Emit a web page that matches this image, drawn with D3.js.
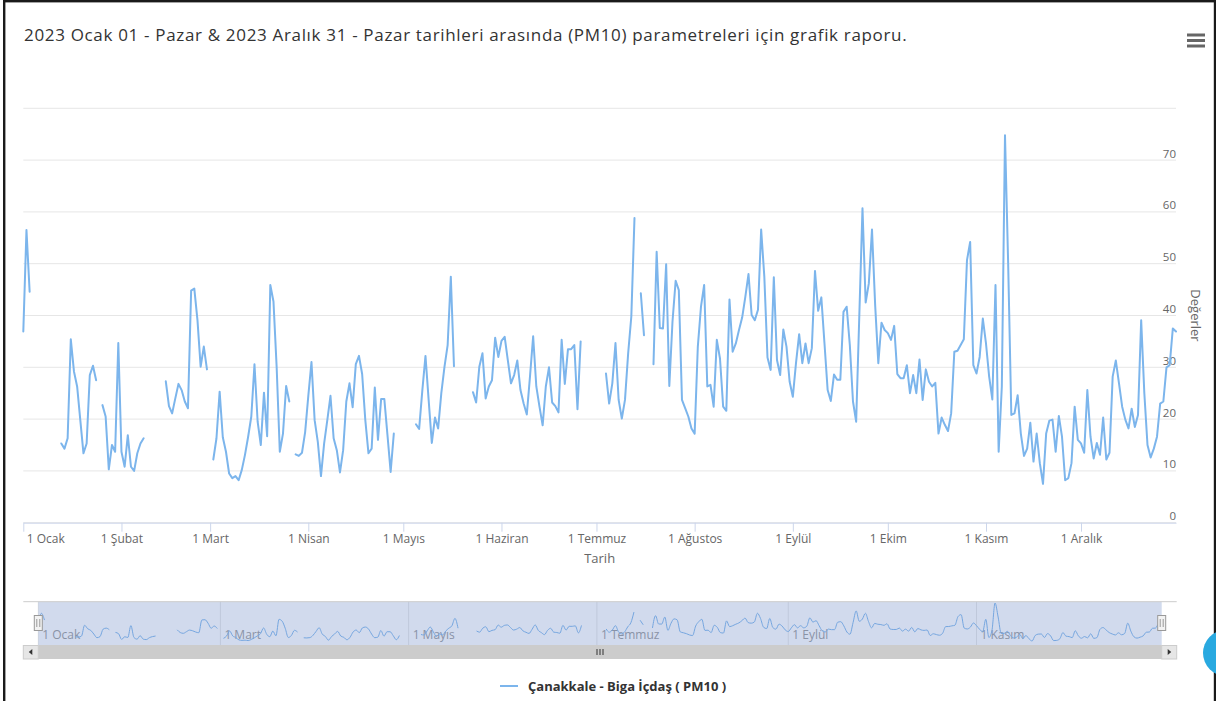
<!DOCTYPE html>
<html>
<head>
<meta charset="utf-8">
<script src="https://cdn.jsdelivr.net/npm/d3@7"></script>
<style>
  body { margin: 0; background: #fff; }
  svg { display: block; font-family: "Open Sans", sans-serif; }
</style>
</head>
<body>
<script>
"use strict";

// ay isimleri (eksen etiketleri)
const monthNames = ["Ocak", "Şubat", "Mart", "Nisan", "Mayıs", "Haziran", "Temmuz", "Ağustos", "Eylül", "Ekim", "Kasım", "Aralık"];

// günlük PM10 değerleri, ay ay (null = ölçüm yok)
const ocak = [36.9, 56.5, 44.6, null, null, null, null, null, null, null, null, null, 15.3, 14.3, 16.3, 35.4, 29.2, 26.3, 19.8, 13.4, 15.3, 28.5, 30.3, 27.5, null, 22.7, 20.5, 10.3, 15.0, 13.7, 34.7];
const subat = [13.7, 10.8, 16.9, 10.8, 10.0, 13.4, 15.3, 16.3, null, null, null, null, null, null, 27.3, 22.5, 21.1, 24.0, 26.8, 25.6, 23.4, 22.1, 44.8, 45.2, 39.1, 30.1, 34.0, 29.6];
const mart = [null, 12.2, 16.3, 25.3, 16.5, 13.7, 9.5, 8.6, 9.0, 8.2, 10.2, 13.1, 16.6, 20.5, 30.6, 19.5, 15.0, 25.1, 16.7, 45.9, 42.7, 30.1, 13.7, 17.2, 26.4, 23.4, null, 13.2, 12.9, 13.5, 17.5];
const nisan = [24.5, 31.0, 19.8, 15.6, 9.0, 15.3, 19.8, 24.5, 16.3, 14.0, 9.7, 14.0, 23.4, 26.9, 22.3, 30.6, 32.2, 28.7, 19.8, 13.4, 14.3, 26.1, 16.0, 23.9, 23.9, 16.9, 9.8, 17.2, null, null];
const mayis = [null, null, null, null, 19.0, 18.1, 25.5, 32.2, 23.7, 15.4, 20.3, 18.2, 25.0, 30.1, 34.3, 47.5, 30.2, null, null, null, null, null, 25.2, 23.2, 30.1, 32.7, 24.0, 26.3, 27.5, 35.7, 32.0];
const haziran = [35.1, 35.9, 31.4, 26.9, 28.5, 31.3, 25.6, 23.0, 20.9, 28.2, 36.0, 26.3, 22.4, 18.8, 26.3, 30.0, 23.2, 22.5, 21.3, 35.3, 26.8, 33.5, 33.5, 34.3, 21.9, 35.0, null, null, null, null];
const temmuz = [null, null, null, 28.8, 23.0, 26.9, 34.7, 23.7, 20.1, 23.7, 32.7, 39.8, 58.8, null, 44.3, 36.2, null, null, 30.6, 52.3, 37.6, 37.5, 49.9, 26.4, 38.8, 46.7, 44.9, 23.7, 22.1, 20.5, 18.2];
const agustos = [17.2, 34.0, 41.7, 45.9, 26.3, 26.6, 22.4, 35.3, 31.7, 22.4, 21.6, 43.1, 33.0, 34.6, 37.2, 39.6, 43.6, 48.0, 40.1, 39.1, 41.1, 56.6, 47.5, 31.9, 29.5, 47.4, 31.4, 28.5, 37.3, 34.0, 27.2];
const eylul = [24.3, 30.8, 36.4, 30.8, 34.6, 30.8, 33.7, 48.6, 40.9, 43.5, 34.6, 25.6, 23.5, 28.6, 27.6, 27.6, 40.7, 41.7, 34.3, 23.4, 19.5, 40.1, 60.7, 42.5, 46.2, 56.6, 42.0, 30.8, 38.6, 37.2];
const ekim = [36.6, 35.3, 38.0, 28.7, 27.9, 27.9, 30.4, 25.0, 28.5, 25.0, 31.5, 23.7, 29.6, 27.2, 26.3, 27.0, 17.2, 20.3, 18.9, 17.7, 21.1, 33.0, 33.2, 34.3, 35.4, 50.7, 54.2, 30.4, 28.8, 32.0, 39.4];
const kasim = [34.6, 28.2, 23.8, 45.9, 13.7, 26.3, 74.8, 50.0, 20.8, 21.1, 24.6, 17.2, 12.9, 14.3, 19.3, 11.8, 17.2, 11.5, 7.5, 17.2, 19.7, 19.9, 13.7, 20.6, 16.6, 8.2, 8.6, 11.5, 22.4, 16.0];
const aralik = [15.3, 13.5, 25.6, 16.6, 12.4, 15.4, 13.1, 20.3, 12.2, 13.5, 28.2, 31.3, 26.9, 22.4, 19.9, 18.2, 22.0, 18.5, 20.8, 39.1, 25.0, 15.0, 12.6, 14.3, 16.6, 23.0, 23.4, 30.0, 30.4, 37.5, 36.9];

const yTicks = [0, 10, 20, 30, 40, 50, 60, 70];
const yGrid = [0, 10, 20, 30, 40, 50, 60, 70, 80];

const titleText = "2023 Ocak 01 - Pazar & 2023 Aralık 31 - Pazar tarihleri arasında (PM10) parametreleri için grafik raporu.";
const seriesName = "Çanakkale - Biga İçdaş ( PM10 )";

const pm10 = [].concat(ocak, subat, mart, nisan, mayis, haziran, temmuz, agustos, eylul, ekim, kasim, aralik);
const t0 = Date.UTC(2023, 0, 1);
const data = pm10.map((v, i) => ({ date: new Date(t0 + i * 864e5), v: v }));

const W = 1216, H = 701;
const plotL = 23.3, plotR = 1176, plotT = 108.3, plotB = 522.7;
const blue = "#7cb5ec";

let svg = d3.select("body").append("svg").attr("width", W).attr("height", H);

// çerçeve
svg.append("rect").attr("x", 4.2).attr("y", 1.2).attr("width", 1210.8).attr("height", 800)
    .attr("fill", "none").attr("stroke", "#1a1a1a").attr("stroke-width", 2.4);

// başlık
svg.append("text").attr("x", 24).attr("y", 41).attr("font-size", 17).attr("letter-spacing", 0.67)
    .attr("fill", "#333").text(titleText);

// menü
[35, 40.5, 46].forEach(yy => {
    svg.append("line").attr("x1", 1187).attr("x2", 1205).attr("y1", yy).attr("y2", yy)
        .attr("stroke", "#666").attr("stroke-width", 3);
});

let x = d3.scaleUtc().domain([data[0].date, data[data.length - 1].date]).range([plotL, plotR]);
let y = d3.scaleLinear().domain([0, 80]).range([plotB, plotT]);

// yatay ızgara
svg.append("g").selectAll("line").data(yGrid).enter().append("line")
    .attr("x1", plotL).attr("x2", plotR)
    .attr("y1", d => y(d)).attr("y2", d => y(d))
    .attr("stroke", "#e6e6e6");

// x ekseni
let monthStarts = d3.utcMonth.range(data[0].date, new Date(t0 + 365 * 864e5));
let xAxis = svg.append("g").attr("transform", `translate(0,${plotB})`)
    .call(d3.axisBottom(x).tickValues(monthStarts).tickSize(9).tickSizeOuter(0)
        .tickFormat(d => "1 " + monthNames[d.getUTCMonth()]));
xAxis.select(".domain").attr("stroke", "#ccd6eb");
xAxis.selectAll(".tick line").attr("stroke", "#ccd6eb");
xAxis.selectAll(".tick text").attr("fill", "#666").attr("font-size", 12)
    .attr("font-family", "Open Sans, sans-serif");
xAxis.selectAll(".tick text").filter((d, i) => i === 0).attr("text-anchor", "start").attr("x", 3);

svg.append("text").attr("x", (plotL + plotR) / 2).attr("y", 563).attr("text-anchor", "middle")
    .attr("font-size", 13).attr("fill", "#666").text("Tarih");

// y etiketleri (sağda, çizginin üstünde)
svg.append("g").selectAll("text").data(yTicks).enter().append("text")
    .attr("x", plotR).attr("y", d => y(d) - 2.5).attr("text-anchor", "end")
    .attr("font-size", 11.5).attr("fill", "#666").text(d => d);

svg.append("text").attr("transform", `translate(1191,${(plotT + plotB) / 2}) rotate(90)`)
    .attr("text-anchor", "middle").attr("font-size", 13).attr("fill", "#666").text("Değerler");

// seri
let line = d3.line().defined(d => d.v != null).x(d => x(d.date)).y(d => y(d.v));
svg.append("path").datum(data).attr("d", line).attr("fill", "none")
    .attr("stroke", blue).attr("stroke-width", 2).attr("stroke-linejoin", "round").attr("stroke-linecap", "round");

// navigator
const navTop = 601.7, navBottom = 645, navL = 38.3, navR = 1161.7;
let nx = d3.scaleUtc().domain(x.domain()).range([navL, navR]);
let ny = d3.scaleLinear().domain(d3.extent(pm10.filter(v => v != null))).range([641, 603]);
let nav = svg.append("g");

let navTicks = monthStarts.filter((d, i) => i % 2 === 0);
nav.selectAll("line.grid").data(navTicks).enter().append("line").attr("class", "grid")
    .attr("x1", d => nx(d)).attr("x2", d => nx(d)).attr("y1", navTop).attr("y2", navBottom)
    .attr("stroke", "#e6e6e6");
nav.selectAll("text").data(navTicks).enter().append("text")
    .attr("x", d => nx(d) + 4).attr("y", 639).attr("font-size", 12).attr("fill", "#999")
    .text(d => "1 " + monthNames[d.getUTCMonth()]);

let nline = d3.line().defined(d => d.v != null).curve(d3.curveMonotoneX)
    .x(d => nx(d.date)).y(d => ny(d.v));
nav.append("path").datum(data).attr("d", nline).attr("fill", "none")
    .attr("stroke", blue).attr("stroke-width", 1);

nav.append("rect").attr("x", navL).attr("y", navTop).attr("width", navR - navL).attr("height", navBottom - navTop)
    .attr("fill", "rgba(102,133,194,0.3)");
nav.append("line").attr("x1", 23.3).attr("x2", 1176.7).attr("y1", navTop).attr("y2", navTop)
    .attr("stroke", "#ccc");

// tutamaçlar
[navL, navR].forEach(hx => {
    nav.append("rect").attr("x", hx - 4).attr("y", 615.5).attr("width", 8).attr("height", 15)
        .attr("fill", "#f2f2f2").attr("stroke", "#999");
    [-1.5, 1.5].forEach(o => {
        nav.append("line").attr("x1", hx + o).attr("x2", hx + o).attr("y1", 619).attr("y2", 627)
            .attr("stroke", "#999");
    });
});

// kaydırma çubuğu
nav.append("rect").attr("x", 23.3).attr("y", navBottom).attr("width", 1176.7 - 23.3).attr("height", 14)
    .attr("fill", "#f2f2f2");
nav.append("rect").attr("x", navL).attr("y", navBottom).attr("width", navR - navL).attr("height", 14)
    .attr("fill", "#cccccc");
[[23.3, -1], [navR, 1]].forEach(([bx, dir]) => {
    nav.append("rect").attr("x", bx).attr("y", navBottom + 0.5).attr("width", 15).attr("height", 13.5)
        .attr("fill", "#e6e6e6").attr("stroke", "#cccccc");
    let cx = bx + 7.5, cy = navBottom + 7;
    nav.append("path").attr("d", `M${cx - 1.5 * dir},${cy - 3} L${cx + 2 * dir},${cy} L${cx - 1.5 * dir},${cy + 3} Z`)
        .attr("fill", "#333");
});
[-3, 0, 3].forEach(o => {
    nav.append("line").attr("x1", 600 + o).attr("x2", 600 + o).attr("y1", navBottom + 4).attr("y2", navBottom + 10)
        .attr("stroke", "#333");
});

// lejant
svg.append("line").attr("x1", 500).attr("x2", 518).attr("y1", 686).attr("y2", 686)
    .attr("stroke", blue).attr("stroke-width", 2);
svg.append("text").attr("x", 528).attr("y", 690.5).attr("font-size", 13).attr("font-weight", "bold")
    .attr("fill", "#333").text(seriesName);

// sağ alttaki yuvarlak düğme
svg.append("circle").attr("cx", 1226).attr("cy", 653).attr("r", 23).attr("fill", "#29a9e0");
</script>
</body>
</html>
